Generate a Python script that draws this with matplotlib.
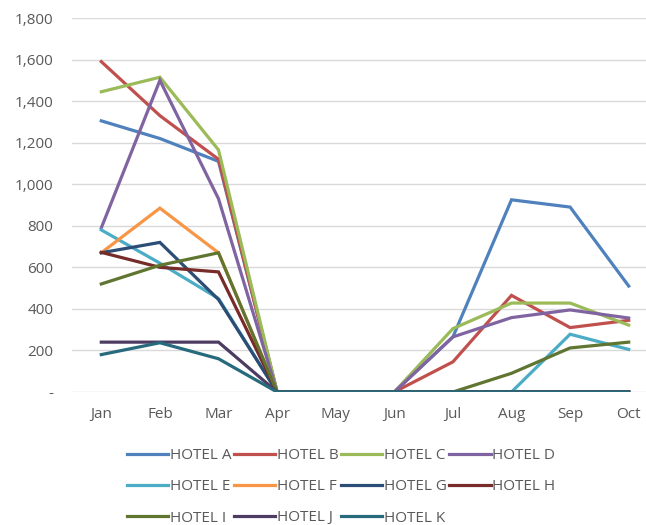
import matplotlib
matplotlib.use("Agg")
import matplotlib.pyplot as plt
from matplotlib.ticker import FuncFormatter

plt.rcParams["font.family"] = ["Open Sans", "DejaVu Sans"]

months = ["Jan", "Feb", "Mar", "Apr", "May", "Jun", "Jul", "Aug", "Sep", "Oct"]

hotel_a = [1305, 1220, 1110, 0, 0, 0, 265, 925, 890, 510]
hotel_b = [1590, 1330, 1120, 0, 0, 0, 145, 465, 310, 345]
hotel_c = [1445, 1515, 1165, 0, 0, 0, 305, 428, 428, 322]
hotel_d = [790, 1500, 930, 0, 0, 0, 265, 358, 395, 356]
hotel_e = [780, 620, 450, 0, 0, 0, 0, 0, 278, 205]
hotel_f = [670, 885, 670, 0, 0, 0, 0, 0, 0, 0]
hotel_g = [670, 720, 445, 0, 0, 0, 0, 0, 0, 0]
hotel_h = [672, 600, 578, 0, 0, 0, 0, 0, 0, 0]
hotel_i = [520, 610, 670, 0, 0, 0, 0, 90, 212, 240]
hotel_j = [240, 240, 240, 0, 0, 0, 0, 0, 0, 0]
hotel_k = [180, 237, 160, 0, 0, 0, 0, 0, 0, 0]

names = ["HOTEL A", "HOTEL B", "HOTEL C", "HOTEL D", "HOTEL E", "HOTEL F",
         "HOTEL G", "HOTEL H", "HOTEL I", "HOTEL J", "HOTEL K"]
series = [hotel_a, hotel_b, hotel_c, hotel_d, hotel_e, hotel_f,
          hotel_g, hotel_h, hotel_i, hotel_j, hotel_k]
colors = ["#4F81BD", "#C0504D", "#9BBB59", "#8064A2", "#4BACC6", "#F79646",
          "#2C4D75", "#772C2A", "#5F7530", "#4D3B62", "#276A7C"]

yticks = [0, 200, 400, 600, 800, 1000, 1200, 1400, 1600, 1800]

fig = plt.figure(figsize=(6.46, 5.25), dpi=100)
ax = fig.add_axes([72 / 646, 133 / 525, 586 / 646, 374 / 525])

x = range(len(months))
handles = []
for name, vals, col in zip(names, series, colors):
    h, = ax.plot(x, vals, color=col, lw=2.3, label=name, solid_joinstyle="miter")
    handles.append(h)

ax.set_xlim(-0.5, len(months) - 0.5)
ax.set_ylim(0, 1800)
ax.set_yticks(yticks)
ax.yaxis.set_major_formatter(FuncFormatter(lambda v, p: "-" if v == 0 else f"{int(v):,}"))
ax.set_xticks(list(x))
ax.set_xticklabels(months)
ax.grid(axis="y", color="#D9D9D9", lw=1)
ax.set_axisbelow(True)
for s in ax.spines.values():
    s.set_visible(False)
ax.tick_params(length=0, colors="#595959", labelsize=11)
ax.tick_params(axis="y", pad=13.5)
ax.tick_params(axis="x", pad=11)

# matplotlib fills legend columns first, so reorder to get row-wise A B C D ...
order = [0, 4, 8, 1, 5, 9, 2, 6, 10, 3, 7]
leg = fig.legend([handles[i] for i in order], [names[i] for i in order],
                 ncol=4, loc="upper left", bbox_to_anchor=(121 / 646, 1 - 442 / 525),
                 frameon=False, fontsize=11, handlelength=2.7, handletextpad=0.1,
                 columnspacing=0.17, labelspacing=1.06, borderaxespad=0)
for t in leg.get_texts():
    t.set_color("#595959")

fig.savefig("out.png", dpi=100)
